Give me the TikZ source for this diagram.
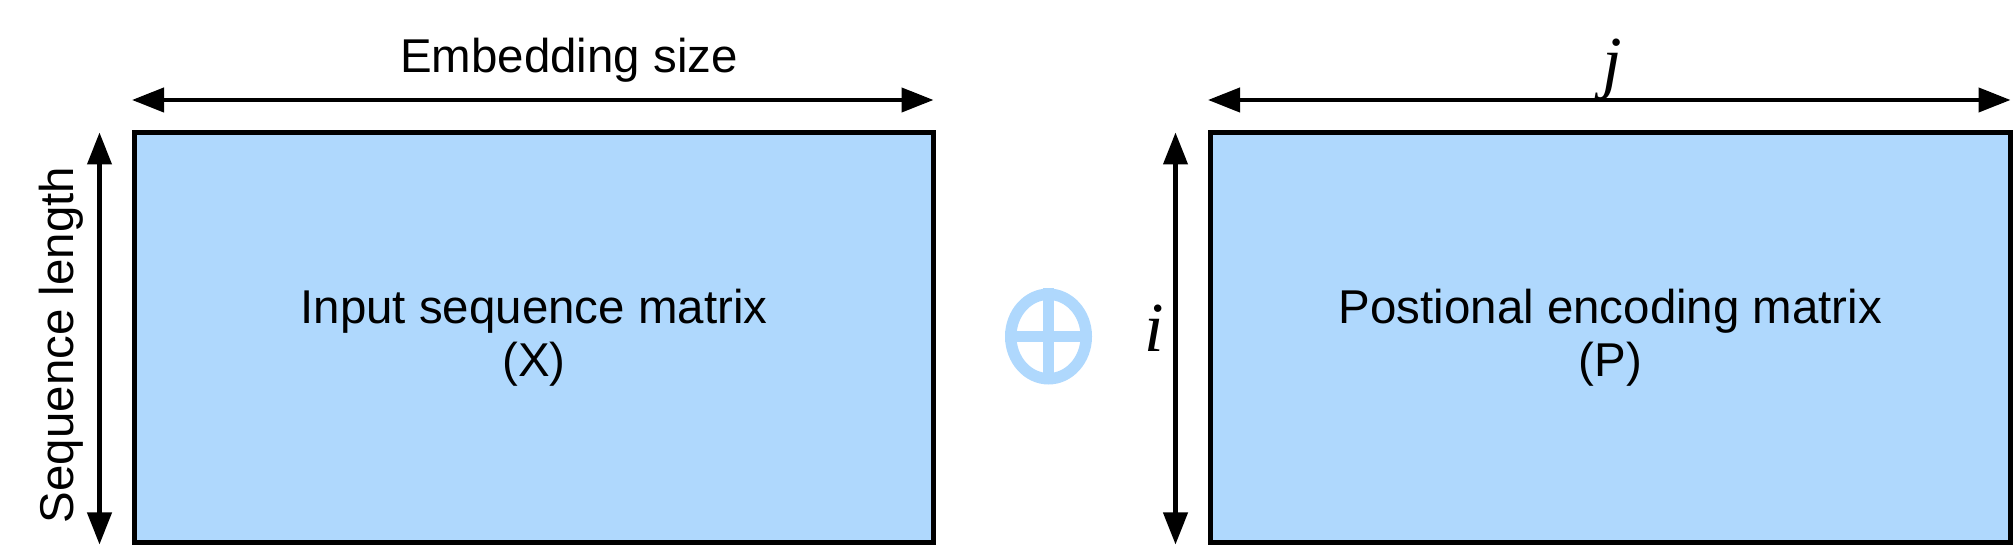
\documentclass[tikz,border=0pt]{standalone}
\usepackage{fontspec}
\setmainfont{Liberation Sans}
\newfontfamily\ijfont{Liberation Serif}
\usetikzlibrary{calc}
\usetikzlibrary{positioning}
\usetikzlibrary{arrows.meta}
\usetikzlibrary{shapes.geometric}
\definecolor{matblue}{HTML}{AFD8FD}

\begin{document}
\begin{tikzpicture}[
        mat/.style={rectangle, draw=black, fill=matblue, line width=1mm, minimum width=15.98cm, minimum height=8.21cm, align=center, font=\fontsize{27}{30}\selectfont},
        dim/.style={{Triangle[length=6.4mm,width=4.8mm]}-{Triangle[length=6.4mm,width=4.8mm]}, line width=0.85mm},
        lbl/.style={inner sep=0, font=\fontsize{27}{30}\selectfont},
        idx/.style={inner sep=0, font=\fontsize{40}{48}\selectfont\ijfont\itshape}]
    \useasboundingbox (0, 0) rectangle (40.28, 10.98);
    \node[mat] (X) at (10.68, 4.225) {Input sequence matrix\\(X)};
    \node[mat, minimum width=16cm] (P) at (32.21, 4.225) {Postional encoding matrix\\(P)};
    \foreach \m in {X, P}
    {
        \coordinate (\m l) at ($(\m.north west) + (0, 0.6)$);
        \coordinate (\m r) at ($(\m.north east) + (-0.05, 0.6)$);
        \coordinate (\m t) at ($(\m.north west) + (-0.65, -0.05)$);
        \coordinate (\m b) at ($(\m.south west) + (-0.65, 0.02)$);
        \draw[dim] (\m l) -- (\m r);
        \draw[dim] (\m t) -- (\m b);
    }
    \node[lbl, anchor=base] (emb) at (11.38, 9.52) {Embedding size};
    \node[lbl, rotate=90] (seq) at (1.22, 4.08) {Sequence length};
    \node[idx, anchor=base] (j) at (32.24, 9.26) {j};
    \node[idx, anchor=base] (i) at (23.08, 3.94) {i};
    % plus sign between the two matrices
    \node[ellipse, draw=matblue, line width=2.3mm, minimum width=1.51cm, minimum height=1.69cm, inner sep=0] (plus) at (20.97, 4.25) {};
    \draw[matblue, line width=2.2mm] (plus.north) -- (plus.south);
    \draw[matblue, line width=2.2mm] (plus.west) -- (plus.east);
\end{tikzpicture}
\end{document}
